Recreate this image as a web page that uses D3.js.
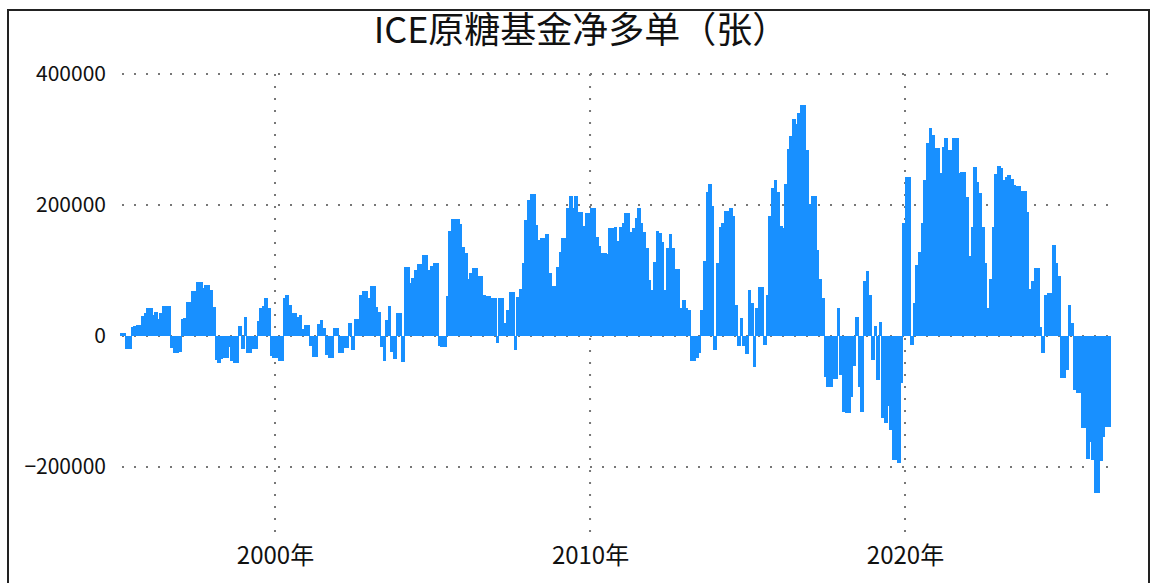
<!DOCTYPE html>
<html>
<head>
<meta charset="utf-8">
<script src="https://cdn.jsdelivr.net/npm/d3@7"></script>
<style>
  html, body { margin: 0; padding: 0; background: #fff; }
  svg { display: block; }
</style>
</head>
<body>
<svg id="chart" width="1160" height="583"></svg>
<script>
// ---- Data (monthly, Feb 1995 – Jun 2026), fund net long in contracts ----
const title = "ICE原糖基金净多单（张）";
const firstMonth = "1995-02";
const netLong = [
  5000, 5000, -20000, -20000, 14000, 15000, 17000, 17000, 31000, 35000, 43000, 43000,
  32000, 37000, 26000, 35000, 46000, 46000, 46000, -18000, -26000, -26000, -24000, 26000,
  27000, 52000, 52000, 69000, 69000, 82000, 82000, 73000, 78000, 78000, 70000, 44000,
  -37000, -41000, -35000, -34000, -34000, -17000, -38000, -41000, -41000, 15000, -20000, 29000,
  -26000, -26000, -20000, -20000, 23000, 43000, 46000, 58000, 43000, -31000, -34000, -34000,
  -38000, -38000, 58000, 63000, 47000, 35000, 35000, 29000, 32000, 11000, 17000, 17000,
  -15000, -32000, -32000, 18000, 24000, 12000, -29000, -34000, -34000, 12000, 12000, -26000,
  -26000, -18000, -18000, 20000, -21000, 26000, 26000, 63000, 69000, 69000, 58000, 76000,
  76000, 44000, 37000, -17000, -38000, 24000, 46000, -24000, -35000, 35000, 35000, -40000,
  105000, 105000, 81000, 89000, 101000, 110000, 110000, 124000, 124000, 101000, 107000, 111000,
  111000, -15000, -17000, -17000, 61000, 160000, 179000, 179000, 179000, 171000, 136000, 127000,
  87000, 96000, 104000, 104000, 92000, 92000, 63000, 61000, 61000, 58000, 58000, -11000,
  58000, 58000, 20000, 40000, 67000, 67000, -21000, 60000, 72000, 111000, 177000, 208000,
  217000, 217000, 170000, 147000, 150000, 150000, 156000, 96000, 76000, 76000, 105000, 128000,
  150000, 150000, 195000, 214000, 195000, 214000, 189000, 189000, 168000, 188000, 188000, 195000,
  195000, 151000, 137000, 127000, 127000, 125000, 165000, 165000, 166000, 145000, 166000, 173000,
  188000, 188000, 159000, 165000, 180000, 195000, 173000, 159000, 134000, 86000, 70000, 113000,
  160000, 157000, 144000, 70000, 134000, 156000, 134000, 102000, 102000, 43000, 55000, 43000,
  40000, -38000, -38000, -34000, -26000, 40000, 115000, 220000, 232000, 199000, -21000, 111000,
  166000, 173000, 191000, 191000, 195000, 183000, 47000, -15000, 27000, -15000, -27000, 70000,
  50000, -47000, 43000, 75000, 75000, -14000, 63000, 183000, 226000, 238000, 220000, 168000,
  165000, 232000, 286000, 305000, 331000, 324000, 341000, 353000, 353000, 284000, 202000, 214000,
  214000, 131000, 87000, 58000, -63000, -78000, -78000, -66000, -66000, 43000, -60000, -116000,
  -118000, -118000, -93000, -46000, 29000, -78000, -116000, 84000, 99000, 63000, -37000, 15000,
  -67000, 21000, -125000, -133000, -107000, -144000, -189000, -189000, -194000, -72000, 173000, 243000,
  243000, -14000, 50000, 108000, 128000, 173000, 238000, 295000, 318000, 307000, 287000, 287000,
  249000, 289000, 302000, 284000, 284000, 302000, 302000, 249000, 250000, 250000, 212000, 122000,
  166000, 258000, 235000, 218000, 166000, 111000, 43000, 87000, 166000, 247000, 260000, 257000,
  238000, 243000, 246000, 240000, 231000, 229000, 229000, 221000, 221000, 189000, 72000, 84000,
  104000, 104000, 14000, -26000, 63000, 66000, 66000, 139000, 111000, 92000, -64000, -64000,
  -52000, 47000, 20000, -82000, -87000, -87000, -140000, -140000, -188000, -162000, -189000, -240000,
  -240000, -191000, -154000, -139000, -139000
];
const yTicks = [400000, 200000, 0, -200000];
const xTickYears = [2000, 2010, 2020];
const yDomain = [-300000, 400000];

// ---- Build ----
const parseMonth = d3.timeParse("%Y-%m");
const start = parseMonth(firstMonth);
const data = netLong.map((v, i) => ({ date: d3.timeMonth.offset(start, i), value: v }));

const svg = d3.select("#chart");

const x = d3.scaleTime()
  .domain([new Date(2000, 0, 1), new Date(2020, 0, 1)])
  .range([275, 905]);
const y = d3.scaleLinear().domain(yDomain).range([532.5, 74]);

// frame
svg.append("rect")
  .attr("x", 8).attr("y", 10)
  .attr("width", 1141).attr("height", 600)
  .attr("fill", "none").attr("stroke", "#222").attr("stroke-width", 2);

// title
svg.append("text")
  .attr("x", 581).attr("y", 43)
  .attr("text-anchor", "middle")
  .attr("font-family", "'Noto Sans CJK SC', sans-serif")
  .attr("font-size", 36)
  .attr("fill", "#111")
  .text(title);

const plotLeft = 122, plotRight = 1110;

// horizontal grid
svg.append("g").selectAll("line").data(yTicks).join("line")
  .attr("x1", plotLeft).attr("x2", plotRight)
  .attr("y1", d => y(d)).attr("y2", d => y(d))
  .attr("stroke", "#777").attr("stroke-width", 2)
  .attr("stroke-dasharray", "2,10");

// vertical grid
svg.append("g").selectAll("line").data(xTickYears).join("line")
  .attr("x1", d => x(new Date(d, 0, 1))).attr("x2", d => x(new Date(d, 0, 1)))
  .attr("y1", y(400000)).attr("y2", 532)
  .attr("stroke", "#777").attr("stroke-width", 2)
  .attr("stroke-dasharray", "2,10");

// bars
svg.append("g").attr("shape-rendering", "crispEdges")
  .selectAll("rect").data(data).join("rect")
  .attr("x", d => x(d.date))
  .attr("width", d => x(d3.timeMonth.offset(d.date, 1)) - x(d.date) + 1)
  .attr("y", d => y(Math.max(0, d.value)))
  .attr("height", d => Math.abs(y(d.value) - y(0)))
  .attr("fill", "#1890ff");

// y axis labels
const yAxis = d3.axisLeft(y).tickValues(yTicks).tickSize(0).tickPadding(16)
  .tickFormat(d3.format("d"));
const gy = svg.append("g").attr("transform", `translate(${plotLeft},0)`).call(yAxis);
gy.select(".domain").remove();
gy.selectAll("text")
  .attr("font-family", "'Noto Sans CJK SC', sans-serif")
  .attr("font-size", 21).attr("fill", "#111");

// x axis labels
const xAxis = d3.axisBottom(x)
  .tickValues(xTickYears.map(yr => new Date(yr, 0, 1)))
  .tickSize(0).tickPadding(0)
  .tickFormat(d => d.getFullYear() + "年");
const gx = svg.append("g").attr("transform", `translate(0,547)`).call(xAxis);
gx.select(".domain").remove();
gx.selectAll("text")
  .attr("font-family", "'Noto Sans CJK SC', sans-serif")
  .attr("font-size", 24).attr("fill", "#111");
</script>
</body>
</html>
